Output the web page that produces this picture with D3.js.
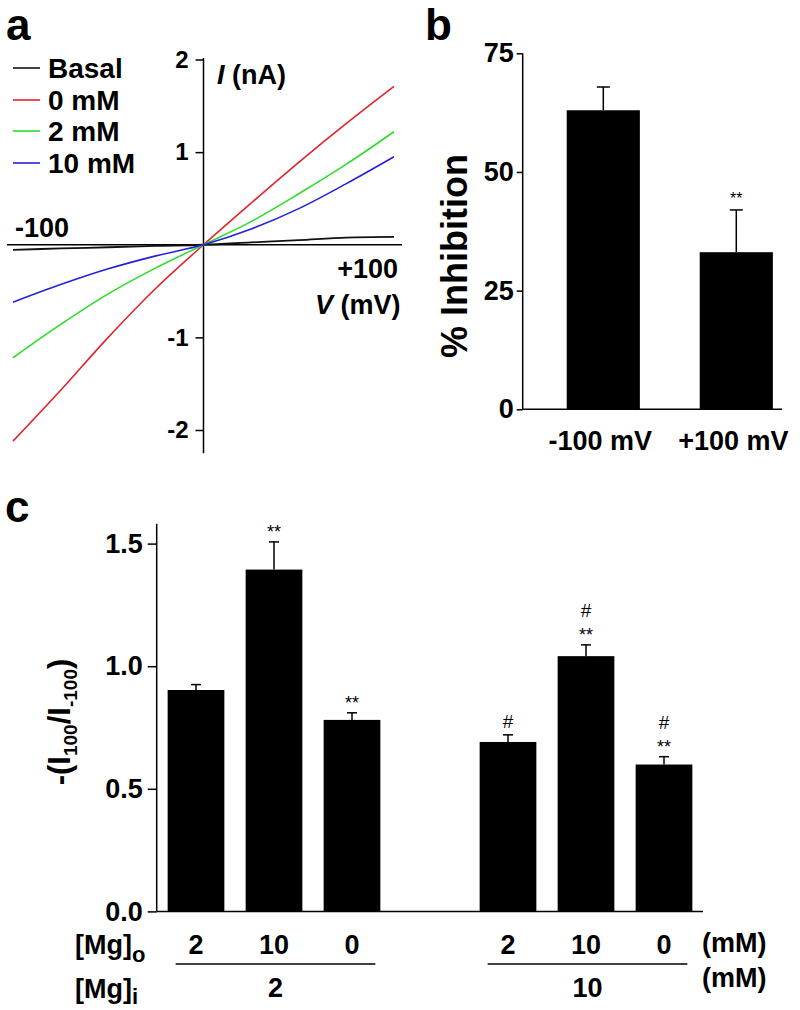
<!DOCTYPE html>
<html><head><meta charset="utf-8">
<script src="https://cdn.jsdelivr.net/npm/d3@7"></script>
<style>body{margin:0;background:#fff}svg{display:block}text{font-family:"Liberation Sans",Arial,sans-serif}</style>
</head><body>
<script>
// ---- Panel a data (I-V curves) ----
const voltages = [-100, -75, -50, -25, 0, 25, 50, 75, 100];
const basal = [-0.055, -0.04, -0.027, -0.013, 0, 0.025, 0.05, 0.078, 0.085];
const mg0 = [-2.12, -1.57, -1.00, -0.47, 0, 0.45, 0.89, 1.31, 1.71];
const mg2 = [-1.22, -0.86, -0.53, -0.25, 0, 0.25, 0.55, 0.87, 1.22];
const mg10 = [-0.62, -0.43, -0.26, -0.12, 0, 0.17, 0.39, 0.66, 0.95];
const seriesNames = ["Basal", "0 mM", "2 mM", "10 mM"];
const seriesColors = ["#111111", "#e3232b", "#2edc2e", "#2222d8"];
const iTicks = [-2, -1, 1, 2];

// ---- Panel b data ----
const bCategories = ["-100 mV", "+100 mV"];
const bValues = [63.0, 33.1];
const bErrors = [4.9, 8.9];
const bSig = ["", "**"];
const bTicks = [0, 25, 50, 75];

// ---- Panel c data ----
const cSlots = ["g1a", "g1b", "g1c", "gap", "g2a", "g2b", "g2c"];
const cBarSlots = ["g1a", "g1b", "g1c", "g2a", "g2b", "g2c"];
const cValues = [0.903, 1.394, 0.781, 0.691, 1.041, 0.599];
const cErrors = [0.022, 0.113, 0.029, 0.029, 0.046, 0.032];
const cStars = ["", "**", "**", "", "**", "**"];
const cHash = ["", "", "", "#", "#", "#"];
const mgOut = ["2", "10", "0", "2", "10", "0"];
const mgIn = ["2", "10"];
const cTicks = [0, 0.5, 1.0, 1.5];

const svg = d3.select("body").append("svg").attr("width", 800).attr("height", 1010);
const B = "bold";

// ================= Panel a =================
const xA = d3.scaleLinear().domain([-100, 100]).range([13, 394]);
const yA = d3.scaleLinear().domain([-2, 2]).range([430, 59.5]);
const gA = svg.append("g");
gA.append("line").attr("x1", xA(0)).attr("x2", xA(0)).attr("y1", yA(2.016)).attr("y2", yA(-2.25))
  .attr("stroke", "#000").attr("stroke-width", 1.5);
gA.append("line").attr("x1", 7).attr("x2", 402).attr("y1", yA(0)).attr("y2", yA(0))
  .attr("stroke", "#000").attr("stroke-width", 1.5);
const axA = gA.append("g").attr("transform", `translate(${xA(0)},0)`)
  .call(d3.axisLeft(yA).tickValues(iTicks).tickSize(8).tickPadding(7).tickFormat(d => String(d)));
axA.select(".domain").remove();
axA.selectAll(".tick line").attr("stroke-width", 1.5);
axA.selectAll(".tick text").attr("font-size", 24).attr("font-weight", B).attr("fill", "#000")
  .attr("font-family", "Liberation Sans, Arial, sans-serif");

const lineGen = d3.line().x((d, i) => xA(voltages[i])).y(d => yA(d)).curve(d3.curveCatmullRom);
[basal, mg0, mg2, mg10].forEach((s, k) => {
  gA.append("path").attr("d", lineGen(s)).attr("fill", "none")
    .attr("stroke", seriesColors[k]).attr("stroke-width", k === 0 ? 1.8 : 1.6);
});
// legend
const legY = [68, 100, 131, 163];
seriesNames.forEach((n, k) => {
  gA.append("line").attr("x1", 13).attr("x2", 40).attr("y1", legY[k]).attr("y2", legY[k])
    .attr("stroke", seriesColors[k]).attr("stroke-width", 1.6);
  gA.append("text").attr("x", 48).attr("y", legY[k] + 10).attr("font-size", 28).attr("font-weight", B).text(n);
});
const tI = gA.append("text").attr("x", 217).attr("y", 84).attr("font-size", 27).attr("font-weight", B);
tI.append("tspan").attr("font-style", "italic").text("I");
tI.append("tspan").text(" (nA)");
const tV = gA.append("text").attr("x", 315).attr("y", 314).attr("font-size", 27).attr("font-weight", B);
tV.append("tspan").attr("font-style", "italic").text("V");
tV.append("tspan").text(" (mV)");
gA.append("text").attr("x", 15).attr("y", 237).attr("font-size", 27).attr("font-weight", B).text("-100");
gA.append("text").attr("x", 398).attr("y", 278).attr("text-anchor", "end").attr("font-size", 27).attr("font-weight", B).text("+100");
svg.append("text").attr("x", 6).attr("y", 40).attr("font-size", 44).attr("font-weight", B).text("a");

// ================= Panel b =================
const yB = d3.scaleLinear().domain([0, 75]).range([409.3, 53.3]);
const xB = d3.scaleBand().domain(bCategories).range([536.8, 802.8]).paddingInner(0.45).paddingOuter(0.225);
const gB = svg.append("g");
const axB = gB.append("g").attr("transform", "translate(522.7,0)")
  .call(d3.axisLeft(yB).tickValues(bTicks).tickSize(6).tickPadding(3).tickFormat(d => String(d)));
axB.select(".domain").remove();
axB.selectAll(".tick line").attr("stroke-width", 1.5);
axB.selectAll(".tick text").attr("font-size", 27).attr("font-weight", B).attr("fill", "#000")
  .attr("font-family", "Liberation Sans, Arial, sans-serif");
gB.append("line").attr("x1", 522.7).attr("x2", 522.7).attr("y1", yB(75)).attr("y2", yB(0)).attr("stroke", "#000").attr("stroke-width", 1.5);
gB.append("line").attr("x1", 522.7).attr("x2", 782).attr("y1", yB(0)).attr("y2", yB(0)).attr("stroke", "#000").attr("stroke-width", 1.5);
bCategories.forEach((c, i) => {
  const x0 = xB(c), w = xB.bandwidth(), cx = x0 + w / 2;
  const et = yB(bValues[i] + bErrors[i]);
  gB.append("line").attr("x1", cx).attr("x2", cx).attr("y1", yB(bValues[i])).attr("y2", et).attr("stroke", "#000").attr("stroke-width", 1.5);
  gB.append("line").attr("x1", cx - 6.5).attr("x2", cx + 6.5).attr("y1", et).attr("y2", et).attr("stroke", "#000").attr("stroke-width", 1.5);
  gB.append("rect").attr("x", x0).attr("y", yB(bValues[i])).attr("width", w).attr("height", yB(0) - yB(bValues[i])).attr("fill", "#000");
  gB.append("text").attr("x", cx - 3).attr("y", 450).attr("text-anchor", "middle").attr("font-size", 27).attr("font-weight", B).text(c);
  if (bSig[i]) gB.append("text").attr("x", cx).attr("y", et - 6).attr("text-anchor", "middle").attr("font-size", 16).text(bSig[i]);
});
gB.append("text").attr("transform", "translate(467,256) rotate(-90)").attr("text-anchor", "middle")
  .attr("font-size", 36).attr("font-weight", B).text("% Inhibition");
svg.append("text").attr("x", 425).attr("y", 40).attr("font-size", 44).attr("font-weight", B).text("b");

// ================= Panel c =================
const yC = d3.scaleLinear().domain([0, 1.5]).range([911.4, 543.6]);
const xC = d3.scaleBand().domain(cSlots).range([157, 703]).paddingInner(0.273).paddingOuter(0.1365);
const gC = svg.append("g");
const axC = gC.append("g").attr("transform", "translate(156.7,0)")
  .call(d3.axisLeft(yC).tickValues(cTicks).tickSize(9).tickPadding(5).tickFormat(d3.format(".1f")));
axC.select(".domain").remove();
axC.selectAll(".tick line").attr("stroke-width", 1.5);
axC.selectAll(".tick text").attr("font-size", 27).attr("font-weight", B).attr("fill", "#000")
  .attr("font-family", "Liberation Sans, Arial, sans-serif");
gC.append("line").attr("x1", 156.7).attr("x2", 156.7).attr("y1", yC(1.581)).attr("y2", yC(0)).attr("stroke", "#000").attr("stroke-width", 1.5);
gC.append("line").attr("x1", 156.7).attr("x2", 703).attr("y1", yC(0)).attr("y2", yC(0)).attr("stroke", "#000").attr("stroke-width", 1.5);
cBarSlots.forEach((s, i) => {
  const x0 = xC(s), w = xC.bandwidth(), cx = x0 + w / 2;
  const et = yC(cValues[i] + cErrors[i]);
  gC.append("line").attr("x1", cx).attr("x2", cx).attr("y1", yC(cValues[i])).attr("y2", et).attr("stroke", "#000").attr("stroke-width", 1.5);
  gC.append("line").attr("x1", cx - 5).attr("x2", cx + 5).attr("y1", et).attr("y2", et).attr("stroke", "#000").attr("stroke-width", 1.5);
  gC.append("rect").attr("x", x0).attr("y", yC(cValues[i])).attr("width", w).attr("height", yC(0) - yC(cValues[i])).attr("fill", "#000");
  if (cStars[i]) gC.append("text").attr("x", cx).attr("y", et - 4).attr("text-anchor", "middle").attr("font-size", 18).text(cStars[i]);
  if (cHash[i]) gC.append("text").attr("x", cx).attr("y", cStars[i] ? et - 28 : et - 7).attr("text-anchor", "middle").attr("font-size", 19).text(cHash[i]);
  gC.append("text").attr("x", cx).attr("y", 954).attr("text-anchor", "middle").attr("font-size", 27).attr("font-weight", B).text(mgOut[i]);
});
// group lines and inner labels
[["g1a", "g1c"], ["g2a", "g2c"]].forEach((g, j) => {
  const x1 = xC(g[0]) + 8, x2 = xC(g[1]) + xC.bandwidth() - 5;
  gC.append("line").attr("x1", x1).attr("x2", x2).attr("y1", 964).attr("y2", 964).attr("stroke", "#000").attr("stroke-width", 1.5);
  gC.append("text").attr("x", (x1 + x2) / 2).attr("y", 997).attr("text-anchor", "middle").attr("font-size", 27).attr("font-weight", B).text(mgIn[j]);
});
const tMo = gC.append("text").attr("x", 75).attr("y", 954).attr("font-size", 27).attr("font-weight", B);
tMo.append("tspan").text("[Mg]");
tMo.append("tspan").attr("dy", 8).attr("font-size", 22).text("o");
const tMi = gC.append("text").attr("x", 75).attr("y", 998).attr("font-size", 27).attr("font-weight", B);
tMi.append("tspan").text("[Mg]");
tMi.append("tspan").attr("dy", 6).attr("font-size", 22).text("i");
gC.append("text").attr("x", 702).attr("y", 952).attr("font-size", 27).attr("font-weight", B).text("(mM)");
gC.append("text").attr("x", 702).attr("y", 987).attr("font-size", 27).attr("font-weight", B).text("(mM)");
// y label
const tY = gC.append("text").attr("transform", "translate(70,722) rotate(-90)").attr("text-anchor", "middle")
  .attr("font-size", 31).attr("font-weight", B);
tY.append("tspan").text("-(I");
tY.append("tspan").attr("font-size", 19).attr("dy", 7).text("100");
tY.append("tspan").attr("dy", -7).text("/I");
tY.append("tspan").attr("font-size", 19).attr("dy", 7).text("-100");
tY.append("tspan").attr("dy", -7).text(")");
svg.append("text").attr("x", 5).attr("y", 522).attr("font-size", 44).attr("font-weight", B).text("c");
</script>
</body></html>
